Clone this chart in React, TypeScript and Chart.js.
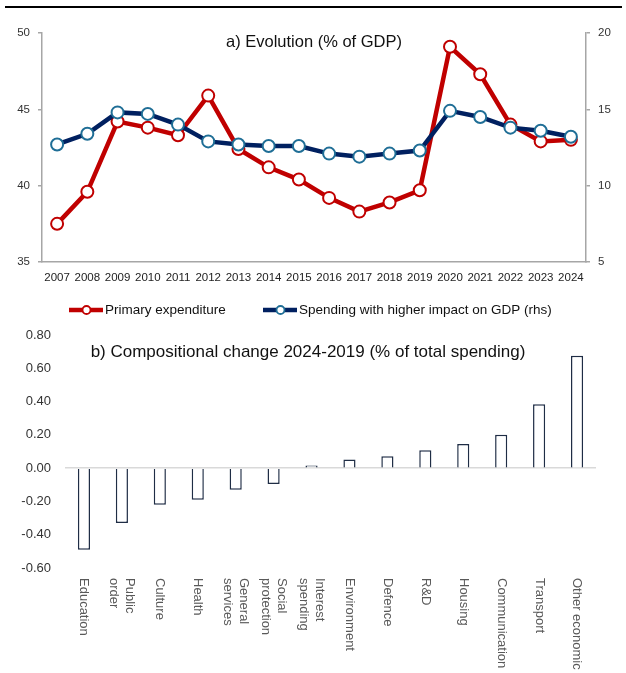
import React, { useEffect, useRef } from "react";
import { Chart, registerables } from "chart.js";

Chart.register(...registerables);

const FONT = '"Liberation Sans", Arial, sans-serif';

// ---- Data: a) Evolution (% of GDP)
const years = ["2007", "2008", "2009", "2010", "2011", "2012", "2013", "2014", "2015", "2016", "2017", "2018", "2019", "2020", "2021", "2022", "2023", "2024"];
const primaryExpenditure = [37.5, 39.6, 44.2, 43.8, 43.3, 45.9, 42.4, 41.2, 40.4, 39.2, 38.3, 38.9, 39.7, 49.1, 47.3, 44.0, 42.9, 43.0];
const higherImpactSpending = [12.7, 13.4, 14.8, 14.7, 14.0, 12.9, 12.7, 12.6, 12.6, 12.1, 11.9, 12.1, 12.3, 14.9, 14.5, 13.8, 13.6, 13.2];
const leftAxisRange = [35, 50];
const rightAxisRange = [5, 20];
const seriesNames = ["Primary expenditure", "Spending with higher impact on GDP (rhs)"];
const titleA = "a) Evolution (% of GDP)";

// ---- Data: b) Compositional change
const categories = [["Education"], ["Public", "order"], ["Culture"], ["Health"], ["General", "services"], ["Social", "protection"], ["Interest", "spending"], ["Environment"], ["Defence"], ["R&D"], ["Housing"], ["Communication"], ["Transport"], ["Other economic"]];
const compositionalChange = [-0.49, -0.33, -0.22, -0.19, -0.13, -0.095, 0.016, 0.052, 0.072, 0.108, 0.145, 0.2, 0.384, 0.676];
const changeAxisRange = [-0.6, 0.8];
const titleB = "b) Compositional change 2024-2019 (% of total spending)";

const RED = "#C00000";
const NAVY = "#002060";
const TEAL = "#1F6E96";

function TopChart() {
  const ref = useRef<HTMLCanvasElement>(null);
  useEffect(() => {
    const canvas = ref.current!;
    const decor = {
      id: "decorA",
      beforeDraw(chart: any) {
        const ctx = chart.ctx;
        ctx.save();
        ctx.strokeStyle = "#000";
        ctx.lineWidth = 2;
        ctx.beginPath();
        ctx.moveTo(5, 7);
        ctx.lineTo(622, 7);
        ctx.stroke();
        ctx.restore();
      },
      afterDraw(chart: any) {
        const ctx = chart.ctx;
        const area = chart.chartArea;
        ctx.save();
        ctx.fillStyle = "#111";
        ctx.font = `16.5px ${FONT}`;
        ctx.textAlign = "center";
        ctx.textBaseline = "middle";
        ctx.fillText(titleA, (area.left + area.right) / 2, 42);
        // legend
        const items = [
          { x: 69, line: RED, mk: RED, text: seriesNames[0] },
          { x: 263, line: NAVY, mk: TEAL, text: seriesNames[1] },
        ];
        const y = 310;
        for (const it of items) {
          ctx.strokeStyle = it.line;
          ctx.lineWidth = 4.5;
          ctx.beginPath();
          ctx.moveTo(it.x, y);
          ctx.lineTo(it.x + 34, y);
          ctx.stroke();
          ctx.beginPath();
          ctx.arc(it.x + 17.5, y, 4, 0, Math.PI * 2);
          ctx.fillStyle = "#fff";
          ctx.fill();
          ctx.lineWidth = 1.8;
          ctx.strokeStyle = it.mk;
          ctx.stroke();
          ctx.fillStyle = "#111";
          ctx.font = `13.5px ${FONT}`;
          ctx.textAlign = "left";
          ctx.textBaseline = "middle";
          ctx.fillText(it.text, it.x + 36, y);
        }
        ctx.restore();
      },
    };
    const chart = new Chart(canvas, {
      type: "line",
      data: {
        labels: years,
        datasets: [
          {
            label: seriesNames[1],
            data: higherImpactSpending,
            yAxisID: "y1",
            borderColor: NAVY,
            borderWidth: 4.5,
            pointRadius: 6,
            pointBorderWidth: 2,
            pointBackgroundColor: "#fff",
            pointBorderColor: TEAL,
            order: 0,
          },
          {
            label: seriesNames[0],
            data: primaryExpenditure,
            yAxisID: "y",
            borderColor: RED,
            borderWidth: 4.5,
            pointRadius: 6,
            pointBorderWidth: 2,
            pointBackgroundColor: "#fff",
            pointBorderColor: RED,
            order: 1,
          },
        ],
      },
      options: {
        animation: false,
        responsive: false,
        maintainAspectRatio: false,
        layout: { padding: { top: 33, left: 0, right: 0, bottom: 0 } },
        plugins: { legend: { display: false }, tooltip: { enabled: false } },
        scales: {
          x: {
            offset: true,
            grid: { display: true, drawOnChartArea: false, drawTicks: false },
            border: { color: "#a6a6a6", width: 1.5 },
            ticks: { padding: 9, font: { size: 11.5, family: FONT }, color: "#222", maxRotation: 0, autoSkip: false },
            afterFit: (s: any) => { s.height = 68; },
          },
          y: {
            position: "left",
            min: leftAxisRange[0],
            max: leftAxisRange[1],
            ticks: { stepSize: 5, padding: 8, font: { size: 11.5, family: FONT }, color: "#333" },
            grid: { drawOnChartArea: false, tickLength: 4, color: "#a6a6a6", lineWidth: 1.5 },
            border: { color: "#a6a6a6", width: 1.5 },
            afterFit: (s: any) => { s.width = 42; },
          },
          y1: {
            position: "right",
            min: rightAxisRange[0],
            max: rightAxisRange[1],
            ticks: { stepSize: 5, padding: 8, font: { size: 11.5, family: FONT }, color: "#333" },
            grid: { drawOnChartArea: false, tickLength: 4, color: "#a6a6a6", lineWidth: 1.5 },
            border: { color: "#a6a6a6", width: 1.5 },
            afterFit: (s: any) => { s.width = 40; },
          },
        },
      } as any,
      plugins: [decor],
    });
    return () => chart.destroy();
  }, []);
  return <canvas ref={ref} width={626} height={330} style={{ position: "absolute", left: 0, top: 0, width: 626, height: 330 }} />;
}

function BottomChart() {
  const ref = useRef<HTMLCanvasElement>(null);
  useEffect(() => {
    const canvas = ref.current!;
    const decor = {
      id: "decorB",
      afterDraw(chart: any) {
        const ctx = chart.ctx;
        ctx.save();
        ctx.fillStyle = "#111";
        ctx.font = `17px ${FONT}`;
        ctx.textAlign = "center";
        ctx.textBaseline = "middle";
        ctx.fillText(titleB, 308, 22);
        const xs = chart.scales.x;
        ctx.font = `13px ${FONT}`;
        ctx.fillStyle = "#595959";
        ctx.textAlign = "left";
        ctx.textBaseline = "middle";
        categories.forEach((lines, i) => {
          const x = xs.getPixelForValue(i);
          ctx.save();
          ctx.translate(x, 248);
          ctx.rotate(Math.PI / 2);
          lines.forEach((ln, j) => {
            ctx.fillText(ln, 0, (j - (lines.length - 1) / 2) * 16);
          });
          ctx.restore();
        });
        ctx.restore();
      },
    };
    const chart = new Chart(canvas, {
      type: "bar",
      data: {
        labels: categories.map((c) => c.join(" ")),
        datasets: [
          {
            data: compositionalChange,
            backgroundColor: "#fff",
            borderColor: "#1F2D45",
            borderWidth: 1.5,
            barPercentage: 0.32,
            categoryPercentage: 1,
          },
        ],
      },
      options: {
        animation: false,
        responsive: false,
        maintainAspectRatio: false,
        layout: { padding: { top: 5, bottom: 105, left: 0, right: 30 } },
        plugins: { legend: { display: false }, tooltip: { enabled: false } },
        scales: {
          x: {
            grid: { display: false },
            border: { display: false },
            ticks: { display: false },
            afterFit: (s: any) => { s.height = 0; },
          },
          y: {
            min: changeAxisRange[0],
            max: changeAxisRange[1],
            ticks: {
              stepSize: 0.2,
              padding: 14,
              font: { size: 13, family: FONT },
              color: "#333",
              callback: (v: any) => Number(v).toFixed(2),
            },
            grid: {
              drawTicks: false,
              lineWidth: 1.5,
              color: (c: any) => (c.tick && Math.abs(c.tick.value) < 1e-9 ? "#d9d9d9" : "rgba(0,0,0,0)"),
            },
            border: { display: false },
            afterFit: (s: any) => {
              s.width = 65;
              s.paddingTop = 0;
              s.paddingBottom = 0;
            },
          },
        },
      } as any,
      plugins: [decor],
    });
    return () => chart.destroy();
  }, []);
  return <canvas ref={ref} width={626} height={343} style={{ position: "absolute", left: 0, top: 330, width: 626, height: 343 }} />;
}

export default function App() {
  return (
    <div style={{ position: "absolute", left: 0, top: 0, width: 626, height: 673, background: "#fff", fontFamily: FONT }}>
      <TopChart />
      <BottomChart />
    </div>
  );
}
